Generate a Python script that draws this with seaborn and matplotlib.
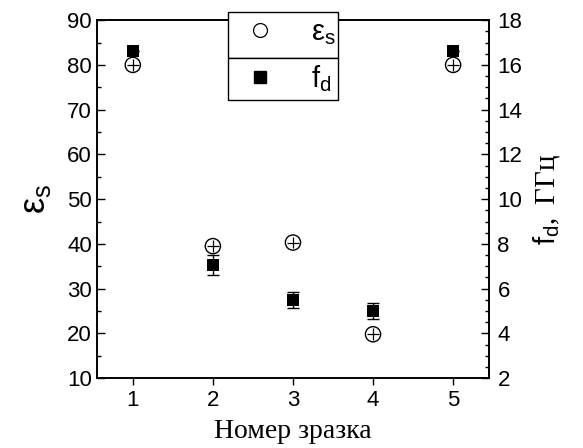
import matplotlib
matplotlib.use("Agg")
import matplotlib.pyplot as plt
import seaborn as sns
import numpy as np
import pandas as pd
from matplotlib.patches import Rectangle
from matplotlib.lines import Line2D
from matplotlib.ticker import MultipleLocator

# ---- data ----
samples = [1, 2, 3, 4, 5]
eps_s = [80.0, 39.5, 40.3, 19.8, 80.0]
eps_err = [1.3, 1.3, 1.3, 1.3, 1.3]
f_d = [16.6, 7.05, 5.5, 5.0, 16.6]
f_err = [0.0, 0.45, 0.35, 0.35, 0.0]
x_ticks = [1, 2, 3, 4, 5]

sns.set_theme(style="white")
plt.rcParams['font.family'] = ['Liberation Sans', 'DejaVu Sans']
plt.rcParams['mathtext.fontset'] = 'custom'
plt.rcParams['mathtext.rm'] = 'Liberation Serif'
plt.rcParams['mathtext.sf'] = 'Liberation Sans'
plt.rcParams['mathtext.it'] = 'Liberation Sans'
plt.rcParams['text.color'] = 'black'
plt.rcParams['axes.labelcolor'] = 'black'

df_e = pd.DataFrame({"x": samples, "y": eps_s})
df_f = pd.DataFrame({"x": samples, "y": f_d})

fig = plt.figure(figsize=(5.83, 4.48), dpi=100)
ax = fig.add_axes([0.166, 0.156, 0.673, 0.799])
ax2 = ax.twinx()

# epsilon: open circles with crossed error bars
ax.errorbar(samples, eps_s, yerr=eps_err, xerr=0.075, fmt='none', ecolor='black',
            elinewidth=0.9, capsize=0, zorder=3)
sns.scatterplot(data=df_e, x="x", y="y", ax=ax, marker='o', s=120,
                facecolor='none', edgecolor='black', linewidth=1.0, zorder=4, legend=False)

# f_d: filled squares with error bars
ax2.errorbar(samples, f_d, yerr=f_err, fmt='none', ecolor='black',
             elinewidth=1.0, capsize=4, capthick=1.0, zorder=3)
sns.scatterplot(data=df_f, x="x", y="y", ax=ax2, marker='s', s=85,
                color='black', edgecolor='black', linewidth=0, zorder=4, legend=False)

ax.set_xlim(0.55, 5.45)
ax.set_ylim(10, 90)
ax2.set_ylim(2, 18)
ax.set_xticks(x_ticks)
ax.yaxis.set_major_locator(MultipleLocator(10))
ax.yaxis.set_minor_locator(MultipleLocator(5))
ax2.yaxis.set_major_locator(MultipleLocator(2))
ax2.yaxis.set_minor_locator(MultipleLocator(0.5))

for a in (ax, ax2):
    for s in a.spines.values():
        s.set_color('black')
        s.set_linewidth(1.2)
ax.tick_params(axis='x', direction='out', length=5, width=1, labelsize=16, colors='black', bottom=True)
ax.tick_params(axis='y', which='major', direction='in', length=6, width=1, labelsize=16,
               colors='black', left=True)
ax.tick_params(axis='y', which='minor', direction='in', length=3, width=1, left=True, colors='black')
ax2.tick_params(axis='y', which='major', direction='in', length=6, width=1, labelsize=16,
                colors='black', right=True, pad=6)
ax2.tick_params(axis='y', which='minor', direction='in', length=3, width=1, right=True, colors='black')

ax.set_xlabel("Номер зразка", fontsize=20, family='Liberation Serif', labelpad=6)
ax.set_ylabel(r'$\mathsf{\varepsilon_s}$', fontsize=26, labelpad=10)
ax2.set_ylabel(r'$\mathsf{f_d},\ \mathrm{ГГц}$', fontsize=21, labelpad=6)

# legend boxes
x0, w = 0.334, 0.281
ax2.add_patch(Rectangle((x0, 0.894), w, 0.128, transform=ax.transAxes, facecolor='white',
                        edgecolor='black', linewidth=1.0, clip_on=False, zorder=8))
ax2.add_patch(Rectangle((x0, 0.777), w, 0.117, transform=ax.transAxes, facecolor='white',
                        edgecolor='black', linewidth=1.0, clip_on=False, zorder=8))
handles = [Line2D([], [], ls='none', marker='o', markersize=10, markerfacecolor='none',
                  markeredgecolor='black', markeredgewidth=0.9),
           Line2D([], [], ls='none', marker='s', markersize=8, color='black')]
labels = [r'$\mathsf{\varepsilon_s}$', r'$\mathsf{f_d}$']
leg = ax2.legend(handles, labels, loc='center', bbox_to_anchor=(x0 + w / 2 + 0.01, 0.9, 0, 0),
                 bbox_transform=ax.transAxes, frameon=False, fontsize=21,
                 labelspacing=0.55, handletextpad=1.0, handlelength=1.5)
leg.set_zorder(10)

fig.savefig("out.png", dpi=100)
